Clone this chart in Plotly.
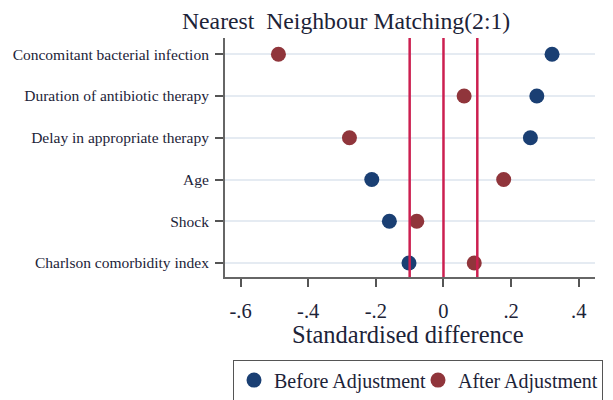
import plotly.graph_objects as go

categories = ["Concomitant bacterial infection", "Duration of antibiotic therapy",
              "Delay in appropriate therapy", "Age", "Shock", "Charlson comorbidity index"]
before_adj = [0.321, 0.276, 0.257, -0.212, -0.160, -0.102]
after_adj = [-0.488, 0.061, -0.278, 0.178, -0.079, 0.091]
ref_lines = [-0.1, 0.0, 0.1]
x_ticks = [-0.6, -0.4, -0.2, 0.0, 0.2, 0.4]
x_tick_labels = ["-.6", "-.4", "-.2", "0", ".2", ".4"]

FONT = "Liberation Serif"
TXT = "#1c2338"
pos = list(range(1, len(categories) + 1))

# page offset (body margin) compensation
OFF = 8
W, H = 613, 400
L, R, T, B = 225, 595, 38, 277.3   # target plot area in screen pixels
PW, PH = R - L, B - T

fig = go.Figure()
fig.add_trace(go.Scatter(x=before_adj, y=pos, mode="markers", name="Before Adjustment",
                         marker=dict(color="#1a3f73", size=15, line=dict(width=0))))
fig.add_trace(go.Scatter(x=after_adj, y=pos, mode="markers", name="After Adjustment",
                         marker=dict(color="#90353b", size=15, line=dict(width=0))))

for v in ref_lines:
    fig.add_shape(type="line", xref="x", yref="paper", x0=v, x1=v, y0=0, y1=1,
                  line=dict(color="#cc1f50", width=2.5), layer="above")

fig.add_annotation(text="Nearest\u00a0 Neighbour Matching(2:1)", xref="paper", yref="paper",
                   x=(346 - L) / PW, y=1 + (T - 21) / PH, xanchor="center", yanchor="middle",
                   showarrow=False, font=dict(family=FONT, size=23.7, color=TXT))

fig.add_annotation(text="Standardised difference", xref="paper", yref="paper",
                   x=(408 - L) / PW, y=-(335 - B) / PH, xanchor="center", yanchor="middle",
                   showarrow=False, font=dict(family=FONT, size=24.5, color=TXT))

fig.update_layout(
    width=W, height=H,
    margin=dict(l=L - OFF, r=W + OFF - R, t=T - OFF, b=H + OFF - B, autoexpand=False),
    plot_bgcolor="white", paper_bgcolor="white",
    font=dict(family=FONT, color=TXT),
    xaxis=dict(range=[-0.646, 0.448], tickvals=x_ticks, ticktext=x_tick_labels,
               ticks="outside", ticklen=8, tickwidth=1.5, tickcolor="#555555",
               showline=True, linecolor="#666666", linewidth=2,
               showgrid=False, zeroline=False, automargin=False,
               ticklabelstandoff=6,
               tickfont=dict(family=FONT, size=20.5, color=TXT)),
    yaxis=dict(range=[6.335, 0.61], tickvals=pos, ticktext=categories,
               ticks="outside", ticklen=8, tickwidth=1.5, tickcolor="#555555",
               showline=True, linecolor="#666666", linewidth=2,
               showgrid=True, gridcolor="#e5ebf2", gridwidth=2, zeroline=False,
               automargin=False, ticklabelstandoff=3,
               tickfont=dict(family=FONT, size=15.5, color=TXT)),
    showlegend=True,
    legend=dict(orientation="h", x=(233 - L) / PW, y=-(360 - B) / PH,
                xanchor="left", yanchor="top", bordercolor="#555555", borderwidth=1,
                font=dict(family=FONT, size=20, color=TXT), itemwidth=30,
                entrywidth=139, entrywidthmode="pixels",
                tracegroupgap=0, bgcolor="white"),
)

fig.write_html("out.html")
